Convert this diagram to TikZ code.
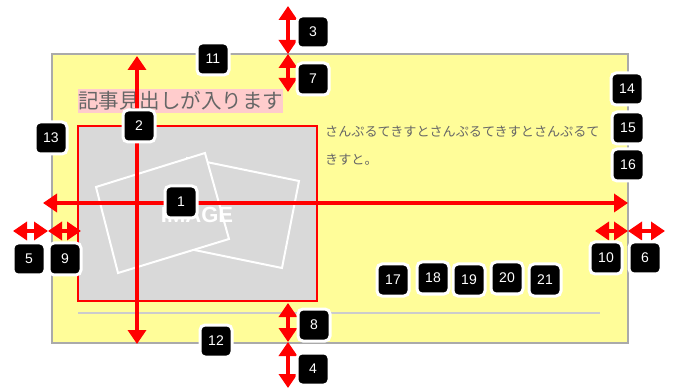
\documentclass[tikz,border=0pt]{standalone}
\usepackage{fontspec}
\setmainfont{Liberation Sans}
\newfontfamily\jpfont{Noto Sans CJK JP}
\usepackage{tikz}
\usetikzlibrary{arrows.meta}
\definecolor{cardbg}{RGB}{255,253,153}
\definecolor{cardline}{RGB}{170,170,170}
\definecolor{imgbg}{RGB}{217,217,217}
\definecolor{imgline}{RGB}{255,0,0}
\definecolor{headpink}{RGB}{255,204,204}
\definecolor{textgray}{RGB}{102,102,102}
\definecolor{rulegray}{RGB}{204,204,204}
\tikzset{
  badge/.style={fill=black, draw=white, line width=3pt, rounded corners=5pt,
    minimum size=32pt, inner sep=0pt, text=white, font=\fontsize{14}{14}\selectfont},
  measure/.style={draw=red, line width=4pt,
    {Triangle[length=14pt,width=18pt]}-{Triangle[length=14pt,width=18pt]}},
}
\begin{document}
\begin{tikzpicture}[x=1pt, y=-1pt]
        \useasboundingbox (0,0) rectangle (675,390);

        % Card
        \draw[cardline, fill=cardbg, line width=1.5pt] (52,54) rectangle (628,343);

        % Heading
        \node[fill=headpink, text=textgray, inner sep=0pt, minimum height=24pt, anchor=west,
          font=\jpfont\fontsize{20.5}{20.5}\selectfont] (heading) at (78,101) {記事見出しが入ります};

        % Image placeholder
        \filldraw[fill=imgbg, draw=imgline, line width=1.3pt] (78,126) rectangle (317,301);
        \draw[white, line width=2pt] (187,158) -- (299,181) -- (282,268) -- (170,245) -- cycle;
        \draw[white, line width=2pt, fill=imgbg] (96,187) -- (205,153) -- (229,239) -- (118,273) -- cycle;
        \node[text=white, font=\bfseries\fontsize{22}{22}\selectfont] (imglabel) at (197,215) {IMAGE};

        % Body text
        \node[text=textgray, inner sep=0pt, anchor=base west, font=\jpfont\fontsize{13.1}{13.1}\selectfont]
          (body1) at (325,137) {さんぷるてきすとさんぷるてきすとさんぷるて};
        \node[text=textgray, inner sep=0pt, anchor=base west, font=\jpfont\fontsize{13.1}{13.1}\selectfont]
          (body2) at (325,165) {きすと。};

        % Rule
        \draw[rulegray, line width=1.5pt] (78,313) -- (600,313);

        % Measure arrows
        \foreach \m/\ax/\ay/\bx/\by in {1/43/203/628/203, 2/137/56/137/344,
            3/288/6/288/54, 7/288/54/288/92, 8/288/303/288/342, 4/288/342/288/388,
            5/13/231/48/231, 9/48/231/81/231, 10/595/231/628/231, 6/628/231/665/231}{
          \coordinate (m\m a) at (\ax,\ay);
          \coordinate (m\m b) at (\bx,\by);
          \draw[measure] (m\m a) -- (m\m b);
        }

        % Badges
        \foreach \n/\x/\y in {1/181/202, 2/139/126, 3/313/32, 7/313/79, 11/213/59, 13/51/138,
            5/29/259, 9/65/259, 8/314/325, 12/216/341, 4/313/369,
            14/627/89, 15/628/128, 16/628/165, 10/606/258, 6/645/258,
            17/393/280, 18/433/278, 19/469/280, 20/507/278, 21/545/280}{
          \node[badge] (b\n) at (\x,\y) {\n};
        }
      \end{tikzpicture}
\end{document}
